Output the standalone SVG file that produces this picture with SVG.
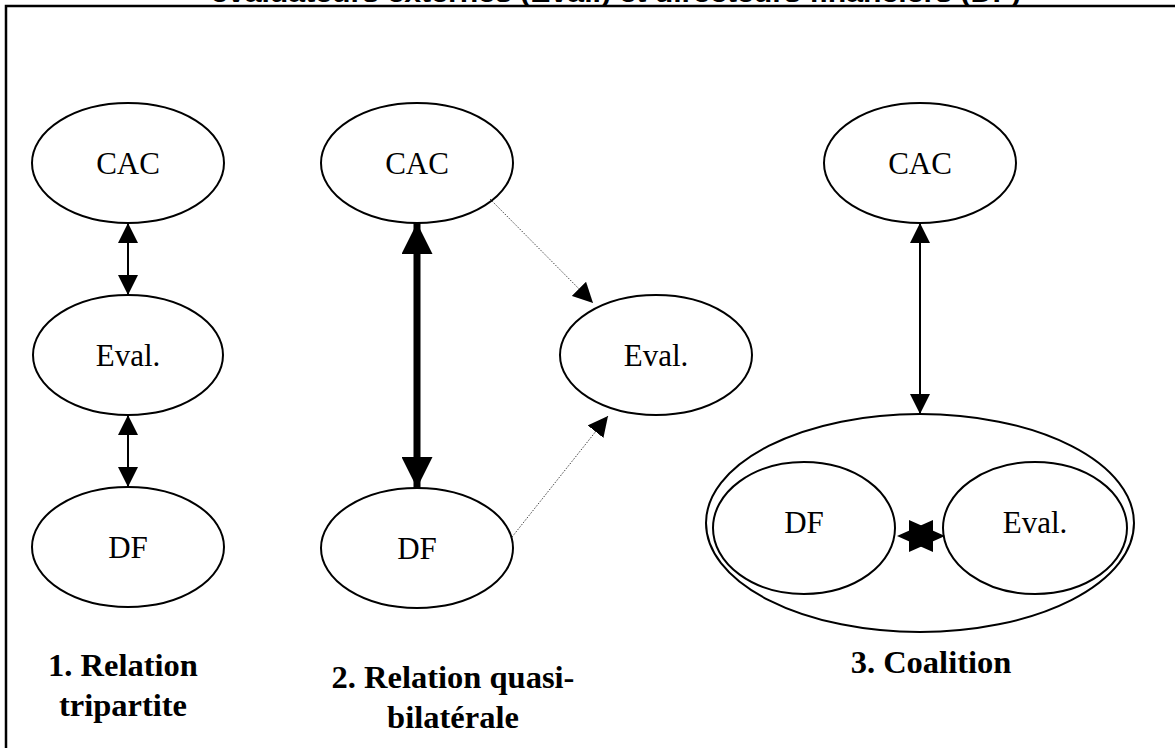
<svg xmlns="http://www.w3.org/2000/svg" width="1175" height="748" viewBox="0 0 1175 748">
<style>
.node{fill:#fff;stroke:#000;stroke-width:2}
.lbl{font-family:"Liberation Serif","Times New Roman",serif;font-size:31px;fill:#000;text-anchor:middle}
.cap{font-family:"Liberation Serif","Times New Roman",serif;font-size:32.5px;font-weight:bold;fill:#000;text-anchor:middle}
.ln{stroke:#000;stroke-width:2;fill:none}
.thick{stroke:#000;stroke-width:7;fill:none}
.dot{stroke:#444;stroke-width:1;stroke-dasharray:1.5 1.5;fill:none}
</style>
<defs>
<marker id="ahS" viewBox="0 0 10 10" refX="10" refY="5" markerWidth="20" markerHeight="20" markerUnits="userSpaceOnUse" orient="auto-start-reverse"><path d="M0,0L10,5L0,10z" fill="#000"/></marker>
<marker id="ahL" viewBox="0 0 10 10" refX="10" refY="5" markerWidth="32" markerHeight="31" markerUnits="userSpaceOnUse" orient="auto-start-reverse"><path d="M0,0L10,5L0,10z" fill="#000"/></marker>
</defs>
<rect x="0" y="0" width="1175" height="748" fill="#fff"/>
<text x="616" y="2" font-family="'Liberation Sans',Arial,sans-serif" font-size="25" font-weight="bold" text-anchor="middle" textLength="810" lengthAdjust="spacingAndGlyphs">évaluateurs externes (Eval.) et directeurs financiers (DF)</text>
<rect x="6" y="6" width="1200" height="800" fill="none" stroke="#000" stroke-width="2.5"/>

<g id="n1-cac"><ellipse class="node" cx="128" cy="163" rx="96" ry="60"/><text class="lbl" x="128" y="174">CAC</text></g>
<g id="n1-eval"><ellipse class="node" cx="128" cy="355" rx="95" ry="60"/><text class="lbl" x="128" y="366">Eval.</text></g>
<g id="n1-df"><ellipse class="node" cx="128" cy="547" rx="96" ry="60"/><text class="lbl" x="128" y="558">DF</text></g>

<g id="n2-cac"><ellipse class="node" cx="417" cy="163" rx="96" ry="60"/><text class="lbl" x="417" y="174">CAC</text></g>
<g id="n2-eval"><ellipse class="node" cx="656" cy="355" rx="96" ry="60"/><text class="lbl" x="656" y="366">Eval.</text></g>
<g id="n2-df"><ellipse class="node" cx="417" cy="548" rx="96" ry="60"/><text class="lbl" x="417" y="559">DF</text></g>

<g id="n3-cac"><ellipse class="node" cx="920" cy="163" rx="96" ry="60"/><text class="lbl" x="920" y="174">CAC</text></g>
<g id="n3-coalition"><ellipse class="node" cx="920" cy="523" rx="214" ry="109"/></g>
<g id="n3-df"><ellipse class="node" cx="804" cy="528" rx="91" ry="66"/><text class="lbl" x="804" y="533">DF</text></g>
<g id="n3-eval"><ellipse class="node" cx="1035" cy="528" rx="92" ry="66"/><text class="lbl" x="1035" y="533">Eval.</text></g>

<g id="connectors">
<line class="ln" x1="128" y1="223" x2="128" y2="295" marker-start="url(#ahS)" marker-end="url(#ahS)"/>
<line class="ln" x1="128" y1="415" x2="128" y2="487" marker-start="url(#ahS)" marker-end="url(#ahS)"/>
<line class="thick" x1="417" y1="223" x2="417" y2="488" marker-start="url(#ahL)" marker-end="url(#ahL)"/>
<line class="dot" x1="490" y1="199" x2="593" y2="303" marker-end="url(#ahS)"/>
<line class="dot" x1="512" y1="537" x2="608" y2="416" marker-end="url(#ahS)"/>
<line class="ln" x1="920" y1="223" x2="920" y2="414" marker-start="url(#ahS)" marker-end="url(#ahS)"/>
<polygon points="897,536 933,520 933,552" fill="#000"/>
<polygon points="945,536 909,520 909,552" fill="#000"/>
</g>

<g id="captions">
<text class="cap" x="123" y="676">1. Relation</text>
<text class="cap" x="123" y="716">tripartite</text>
<text class="cap" x="453" y="688">2. Relation quasi-</text>
<text class="cap" x="453" y="728">bilatérale</text>
<text class="cap" x="931" y="673">3. Coalition</text>
</g>
</svg>
